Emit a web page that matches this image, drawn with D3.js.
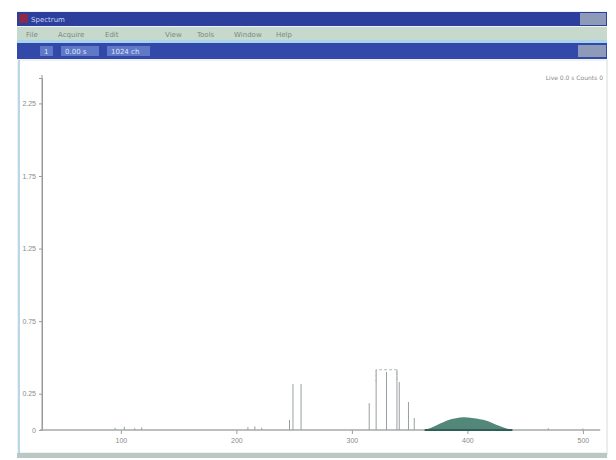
<!DOCTYPE html>
<html>
<head>
<meta charset="utf-8">
<script src="https://cdn.jsdelivr.net/npm/d3@7"></script>
<style>
  body { margin: 0; background: #fff; }
  svg { display: block; font-family: "DejaVu Sans", sans-serif; }
</style>
</head>
<body>
<div id="chart"></div>
<script>
// window chrome text
const titleText = 'Spectrum';
const menuItems = ['File', 'Acquire', 'Edit', 'View', 'Tools', 'Window', 'Help'];
const toolItems = ['1', '0.00 s', '1024 ch'];
const infoText = 'Live 0.0 s  Counts 0';

// axis ticks
const yTicks = [0, 10, 30, 50, 70, 90];
const xTicks = [100, 200, 300, 400, 500];

// line peaks (channel, intensity)
const peakX = [95, 103, 112, 118, 210, 216, 222, 246, 249, 256, 315, 321, 330, 339, 341, 349, 354, 470, 500];
const peakY = [0.6, 0.9, 0.5, 0.7, 0.8, 1.0, 0.6, 2.8, 12.7, 12.7, 7.4, 16.6, 16.0, 16.6, 13.2, 7.7, 3.3, 0.5, 0.4];

// marked region (start, end, height)
const regionStart = [321];
const regionEnd = [339];
const regionTop = [16.6];

// broad hump
const humpX = [363, 369, 376, 383, 390, 397, 404, 411, 418, 425, 432, 439];
const humpY = [0, 0.6, 1.7, 2.8, 3.3, 3.6, 3.3, 3.0, 2.5, 1.4, 0.6, 0];

const W = 616, H = 460;
const svg = d3.select('#chart').append('svg').attr('width', W).attr('height', H);

// window frame
svg.append('rect').attr('x', 17).attr('y', 11).attr('width', 590).attr('height', 447).attr('fill', '#eef2f4');
svg.append('rect').attr('x', 17).attr('y', 12).attr('width', 590).attr('height', 14).attr('fill', '#2d3f9c');
svg.append('rect').attr('x', 19).attr('y', 14).attr('width', 9).attr('height', 9).attr('fill', '#8a2a4a');
svg.append('text').attr('x', 31).attr('y', 22).attr('font-size', 7).attr('fill', '#c8d4f4').text(titleText);
svg.append('rect').attr('x', 580).attr('y', 13).attr('width', 26).attr('height', 12).attr('fill', '#8d9ab8');

svg.append('rect').attr('x', 17).attr('y', 27).attr('width', 590).attr('height', 13).attr('fill', '#c7d8cd');
let mx = 26;
menuItems.forEach((m, i) => {
  const t = svg.append('text').attr('x', mx).attr('y', 37).attr('font-size', 7).attr('fill', '#7a8a80').text(m);
  mx += m.length * 5 + (i === 2 ? 40 : 12);
});
svg.append('rect').attr('x', 17).attr('y', 40).attr('width', 590).attr('height', 3).attr('fill', '#a8d4ee');
svg.append('rect').attr('x', 17).attr('y', 43).attr('width', 590).attr('height', 16).attr('fill', '#3349aa');
let tx = 40;
toolItems.forEach(s => {
  const w = s.length * 5 + 8;
  svg.append('rect').attr('x', tx).attr('y', 46).attr('width', w).attr('height', 10).attr('fill', '#5f78c8');
  svg.append('text').attr('x', tx + 4).attr('y', 54).attr('font-size', 7).attr('fill', '#dfe6fa').text(s);
  tx += w + 8;
});
svg.append('rect').attr('x', 578).attr('y', 45).attr('width', 28).attr('height', 12).attr('fill', '#8d9ab8');

// plot panel
svg.append('rect').attr('x', 20).attr('y', 61).attr('width', 587).attr('height', 391).attr('fill', '#fff');
svg.append('line').attr('x1', 19).attr('x2', 19).attr('y1', 60).attr('y2', 455).attr('stroke', '#b8d8e8').attr('stroke-width', 2);
svg.append('line').attr('x1', 607).attr('x2', 607).attr('y1', 60).attr('y2', 455).attr('stroke', '#d8dcdc');
svg.append('rect').attr('x', 17).attr('y', 453).attr('width', 590).attr('height', 5).attr('fill', '#b9c8c2');

const x = d3.scaleLinear().domain([30, 520]).range([40, 606]);
const y = d3.scaleLinear().domain([0, 97]).range([430, 78]);

// axes
const yAxis = svg.append('g').attr('transform', 'translate(42,0)')
  .call(d3.axisLeft(y).tickValues(yTicks).tickSize(3).tickFormat(d => d === 0 ? '0' : d3.format('.2f')(d / 10 * 0.25)));
yAxis.select('.domain').attr('stroke', '#9a9a9a');
yAxis.selectAll('.tick line').attr('stroke', '#9a9a9a');
yAxis.selectAll('.tick text').attr('font-size', 7).attr('fill', '#8a8a8a');
svg.append('line').attr('x1', 42).attr('x2', 42).attr('y1', 75).attr('y2', 430).attr('stroke', '#9a9a9a');

const xAxis = svg.append('g').attr('transform', 'translate(0,430)')
  .call(d3.axisBottom(x).tickValues(xTicks).tickSize(4));
xAxis.select('.domain').remove();
xAxis.selectAll('.tick line').attr('stroke', '#9a9a9a');
xAxis.selectAll('.tick text').attr('font-size', 7).attr('fill', '#8a8a8a').attr('dy', '0.9em');
svg.append('line').attr('x1', x(30)).attr('x2', x(515)).attr('y1', y(0)).attr('y2', y(0))
  .attr('stroke', '#a4aaa8').attr('stroke-width', 1.5);

// hump
const area = d3.area().x((d, i) => x(humpX[i])).y0(y(0)).y1((d, i) => y(humpY[i])).curve(d3.curveBasis);
svg.append('path').datum(humpY).attr('d', area).attr('fill', '#3f7a6c').attr('opacity', 0.9);
svg.append('line').attr('x1', x(humpX[0])).attr('x2', x(humpX[humpX.length - 1])).attr('y1', y(0)).attr('y2', y(0))
  .attr('stroke', '#2f5e56').attr('stroke-width', 2);

// peaks
svg.selectAll('line.peak').data(peakX).enter().append('line').attr('class', 'peak')
  .attr('x1', d => x(d)).attr('x2', d => x(d))
  .attr('y1', y(0)).attr('y2', (d, i) => y(peakY[i]))
  .attr('stroke', '#9a9ea0').attr('stroke-width', 1);

// region marker
regionStart.forEach((s, i) => {
  svg.append('path')
    .attr('d', `M${x(s)},${y(regionTop[i] * 0.8)}V${y(regionTop[i])}H${x(regionEnd[i])}V${y(regionTop[i] * 0.8)}`)
    .attr('fill', 'none').attr('stroke', '#b4b8ba').attr('stroke-dasharray', '3,2');
});

svg.append('text').attr('x', 603).attr('y', 80).attr('text-anchor', 'end').attr('font-size', 6).attr('fill', '#8a8a8a').text(infoText);
</script>
</body>
</html>
